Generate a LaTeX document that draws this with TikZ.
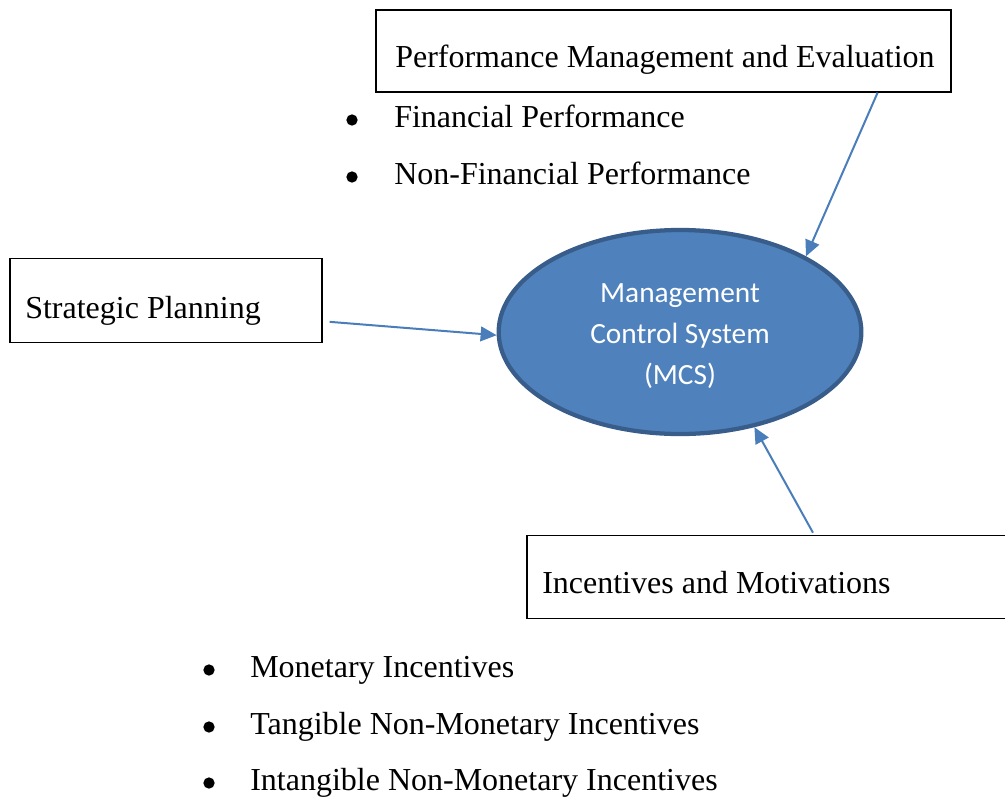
\documentclass[tikz,border=0pt]{standalone}
\usepackage{fontspec}
\setmainfont{Liberation Serif}
\newfontfamily\calibrifont{Carlito}
\usetikzlibrary{arrows.meta,shapes.geometric}
\definecolor{mcsfill}{HTML}{4F81BD}
\definecolor{mcsline}{HTML}{385D8A}
\definecolor{arrowblue}{HTML}{4A7EBB}
\begin{document}
\begin{tikzpicture}[x=0.75pt,y=-0.75pt,
  box/.style={draw=black,line width=0.9pt,rectangle,inner sep=0pt},
  boxtext/.style={anchor=base west,inner sep=0pt,font=\fontsize{24}{28}\selectfont},
  dot/.style={circle,fill=black,inner sep=0pt,minimum size=8.5pt},
  link/.style={draw=arrowblue,line width=1.5pt,-{Triangle[length=12pt,width=11pt]}}]
\clip (0,0) rectangle (1005,799);
\useasboundingbox (0,0) rectangle (1005,799);

% central ellipse and its caption
\node[ellipse,fill=mcsfill,draw=mcsline,line width=3.2pt,
      minimum width=272pt,minimum height=153pt,inner sep=0pt] (mcs) at (680,332) {};
\node[text=white,align=center,inner sep=0pt,
      font=\calibrifont\fontsize{22}{30.75}\selectfont] (mcsT) at (680,336)
  {Management\\Control System\\(MCS)};

% boxes
\node[box,minimum width=431.25pt,minimum height=61.5pt] (perf) at (663.5,51) {};
\node[boxtext] (perfT) at (395,68) {Performance Management and Evaluation};

\node[box,minimum width=234pt,minimum height=63.5pt] (strat) at (166,300.5) {};
\node[boxtext] (stratT) at (25,318) {Strategic Planning};

\node[box,minimum width=375pt,minimum height=62.5pt] (inc) at (777,577) {};
\node[boxtext] (incT) at (542,593) {Incentives and Motivations};

% bullet lists
\node[dot] (b1) at (352,120) {};
\node[boxtext] (l1) at (394,127) {Financial Performance};
\node[dot] (b2) at (352,177) {};
\node[boxtext] (l2) at (394,184) {Non-Financial Performance};

\node[dot] (b3) at (209,670) {};
\node[boxtext] (l3) at (250,677) {Monetary Incentives};
\node[dot] (b4) at (209,727) {};
\node[boxtext] (l4) at (250,734) {Tangible Non-Monetary Incentives};
\node[dot] (b5) at (209,783) {};
\node[boxtext] (l5) at (250,790) {Intangible Non-Monetary Incentives};

% connectors
\draw[link] ([xshift=-55.5pt]perf.south east) -- (mcs.31);
\draw[link] ([xshift=5.25pt,yshift=-16pt]strat.east) -- (mcs.181);
\draw[link] ([xshift=27pt,yshift=1.5pt]inc.north) -- (mcs.308);
\end{tikzpicture}
\end{document}
